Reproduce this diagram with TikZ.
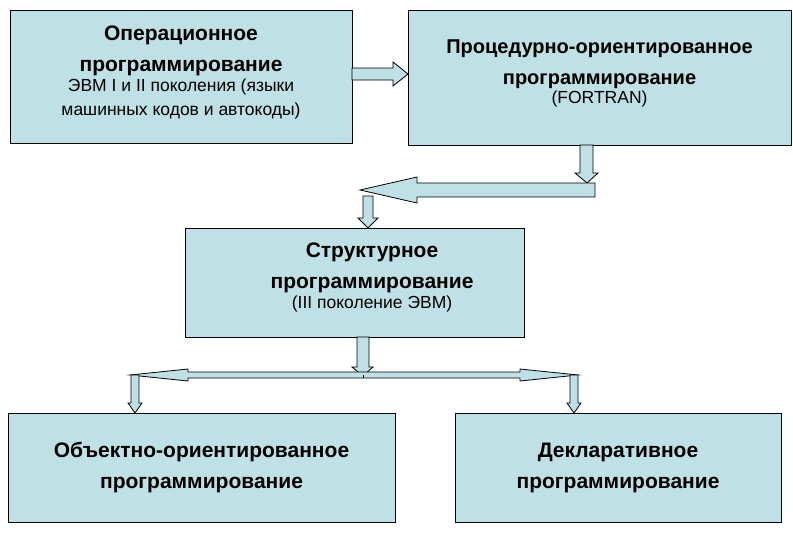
\documentclass[tikz,border=0pt]{standalone}
\usepackage{fontspec}
\setmainfont{Liberation Sans}
\usetikzlibrary{positioning}
\definecolor{boxfill}{RGB}{191,224,228}

\begin{document}
\begin{tikzpicture}[x=1pt, y=-1pt,
        % STYLES
        stage/.style={rectangle, draw=black, fill=boxfill, thick, align=center, inner sep=0pt},
        title/.style={align=center, inner sep=0pt, font=\fontsize{21}{31}\selectfont\bfseries},
        note/.style={align=center, inner sep=0pt, font=\fontsize{17.5}{24}\selectfont},
        % ARROWS
        blockarrow/.style={draw=black, fill=boxfill, line width=0.8pt}
    ]
    \useasboundingbox (0,0) rectangle (793,538);

    % ===================================
    % 1. Stages
    % ===================================
    \node[stage, minimum width=342pt, minimum height=133pt] (oper) at (181,76.5) {};
    \node[title] (operT) at (181,51) {Операционное\\программирование};
    \node[note, below=2pt of operT] (operN) {ЭВМ I и II поколения (языки\\машинных кодов и автокоды)};

    \node[stage, minimum width=383pt, minimum height=135pt] (proc) at (599.5,77.5) {};
    \node[title, font=\fontsize{20}{31}\selectfont\bfseries] (procT) at (599.5,64) {Процедурно-ориентированное\\программирование};
    \node[note, below=2pt of procT] (procN) {(FORTRAN)};

    \node[stage, minimum width=339pt, minimum height=109pt] (struct) at (354.5,282.5) {};
    \node[title] (structT) at (372,268) {Структурное\\программирование};
    \node[note, below=2pt of structT] (structN) {(III поколение ЭВМ)};

    \node[stage, minimum width=387pt, minimum height=109pt, title] (obj) at (201.5,467.5) {Объектно-ориентированное\\программирование};
    \node[stage, minimum width=326pt, minimum height=109pt, title] (decl) at (618,467.5) {Декларативное\\программирование};

    % ===================================
    % 2. Block arrows
    % ===================================
    % oper -> proc
    \draw[blockarrow] (352,68) -- (393,68) -- (393,62) -- (408,74) -- (393,86) -- (393,80) -- (352,80) -- cycle;

    % proc -> bar -> struct
    \draw[blockarrow] (580,145) -- (580,173) -- (575,173) -- (587,183) -- (598,173) -- (593,173) -- (593,145) -- cycle;
    \draw[blockarrow] (595,183) -- (417,183) -- (417,177) -- (360,190) -- (417,203) -- (417,197) -- (595,197) -- cycle;
    \draw[blockarrow] (363,196) -- (363,218) -- (358,218) -- (368,228) -- (378,218) -- (373,218) -- (373,196) -- cycle;

    % struct -> bar -> obj, decl
    \draw[blockarrow] (357,337) -- (357,367) -- (352,367) -- (363,376) -- (373,367) -- (369,367) -- (369,337) -- cycle;
    \draw[blockarrow] (188,372) -- (188,369) -- (130,375) -- (188,381) -- (188,378) -- (520,378) -- (520,381) -- (578,375) -- (520,369) -- (520,372) -- cycle;
    \draw[black, line width=0.8pt] (363,375) -- (363,378);
    \draw[blockarrow] (131,375) -- (131,403) -- (128,403) -- (135,413) -- (142,403) -- (139,403) -- (139,375) -- cycle;
    \draw[blockarrow] (570,375) -- (570,403) -- (567,403) -- (574,413) -- (581,403) -- (578,403) -- (578,375) -- cycle;

\end{tikzpicture}
\end{document}
